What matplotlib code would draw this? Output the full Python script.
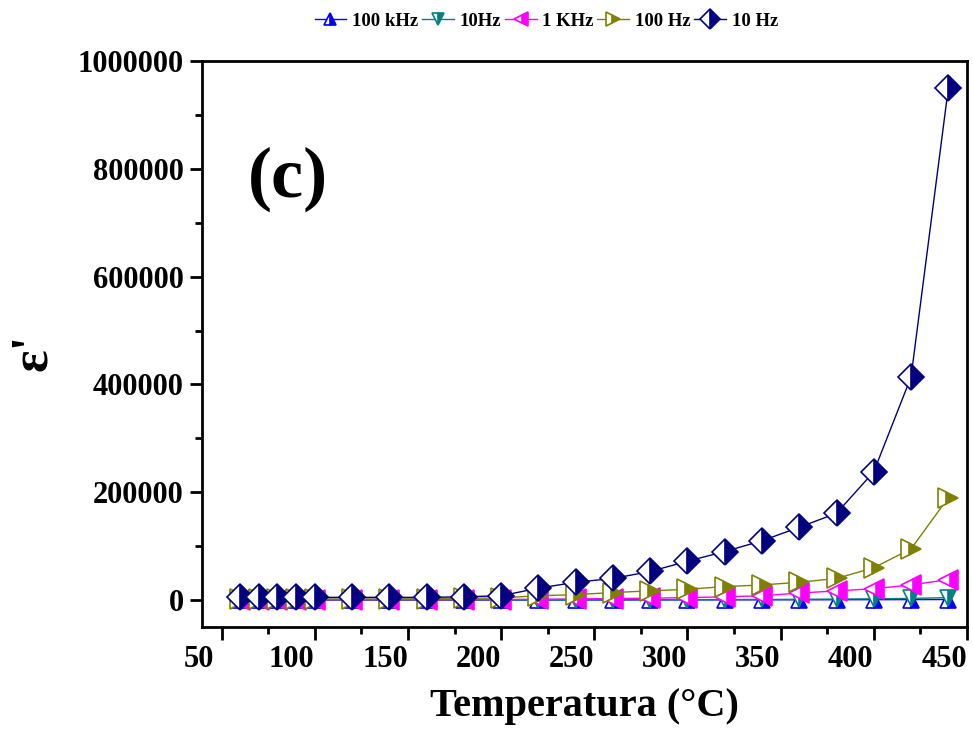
import matplotlib
matplotlib.use("Agg")
import matplotlib.pyplot as plt
import matplotlib.transforms as mtransforms
from matplotlib.ticker import MultipleLocator

plt.rcParams['font.family'] = ['Liberation Serif', 'DejaVu Serif']
plt.rcParams['font.weight'] = 'bold'

# ---------- data ----------
temp = [60, 70, 80, 90, 100, 120, 140, 160, 180, 200, 220,
        240, 260, 280, 300, 320, 340, 360, 380, 400, 420, 440]

eps_100khz = [100, 100, 100, 100, 100, 100, 100, 100, 100, 100, 150,
              200, 250, 300, 350, 400, 450, 500, 600, 700, 800, 1000]
eps_10hz_b = [200, 200, 200, 200, 200, 200, 200, 200, 200, 250, 300,
              400, 500, 600, 700, 900, 1100, 1400, 1800, 2300, 3000, 4500]
eps_1khz = [800, 800, 800, 800, 800, 800, 800, 800, 900, 1000, 1500,
            2000, 2800, 3500, 4500, 6000, 8000, 13000, 17000, 21000, 28000, 38000]
eps_100hz = [2000, 2000, 2000, 2000, 2000, 2000, 2000, 2500, 3000, 4000, 8000,
             10000, 14000, 17000, 20000, 25000, 28000, 33000, 40000, 60000, 95000, 190000]
eps_10hz = [5000, 5000, 5000, 5000, 5000, 5000, 5000, 5000, 6000, 8000, 22000,
            33000, 40000, 53000, 72000, 90000, 110000, 135000, 161000, 238000, 414000, 950000]

series = [
    ("100 kHz", eps_100khz, '^', 'blue', 11),
    ("10Hz", eps_10hz_b, 'v', '#008080', 11),
    ("1 KHz", eps_1khz, '<', 'magenta', 14),
    ("100 Hz", eps_100hz, '>', '#808000', 14),
    ("10 Hz", eps_10hz, 'D', '#000080', 13.5),
]

fig = plt.figure(figsize=(9.73, 7.38), dpi=100)
ax = fig.add_axes([0.2076, 0.1504, 0.7862, 0.7669])

for name, vals, mk, col, ms in series:
    ax.plot(temp, vals, marker=mk, color=col, linewidth=1, markersize=ms,
            fillstyle='right', markerfacecolor=col, markerfacecoloralt='white',
            markeredgecolor=col, markeredgewidth=1.2, label=name)

ax.set_xlim(39.5, 450)
ax.set_ylim(-50000, 1000000)
ax.xaxis.set_major_locator(MultipleLocator(50))
ax.xaxis.set_minor_locator(MultipleLocator(25))
ax.yaxis.set_major_locator(MultipleLocator(200000))
ax.yaxis.set_minor_locator(MultipleLocator(100000))
ax.ticklabel_format(axis='y', style='plain', useOffset=False)

for s in ax.spines.values():
    s.set_linewidth(2)
ax.tick_params(which='both', direction='out', width=2, top=False, right=False)
ax.tick_params(which='major', length=9, labelsize=22, pad=4)
ax.tick_params(which='minor', length=5)

# the x labels sit a little left of their ticks in the original
offset = mtransforms.ScaledTranslation(-23 / 100, 0, fig.dpi_scale_trans)
for lbl in ax.get_xticklabels():
    lbl.set_transform(lbl.get_transform() + offset)

ax.set_xlabel("Temperatura (°C)", fontsize=29, fontweight='bold', labelpad=10)
ax.set_ylabel("ε'", fontsize=38, fontweight='bold')
ax.yaxis.set_label_coords(-0.19, 0.485)

ax.text(0.06, 0.76, "(c)", transform=ax.transAxes, fontsize=52, fontweight='bold')

ax.legend(loc='center', bbox_to_anchor=(0.45, 1.07), ncol=5, frameon=False,
          markerscale=0.75, handlelength=1.7, handletextpad=0.3,
          columnspacing=0.2, prop={'weight': 'bold', 'size': 13.5})

fig.savefig("out.png", dpi=100)
